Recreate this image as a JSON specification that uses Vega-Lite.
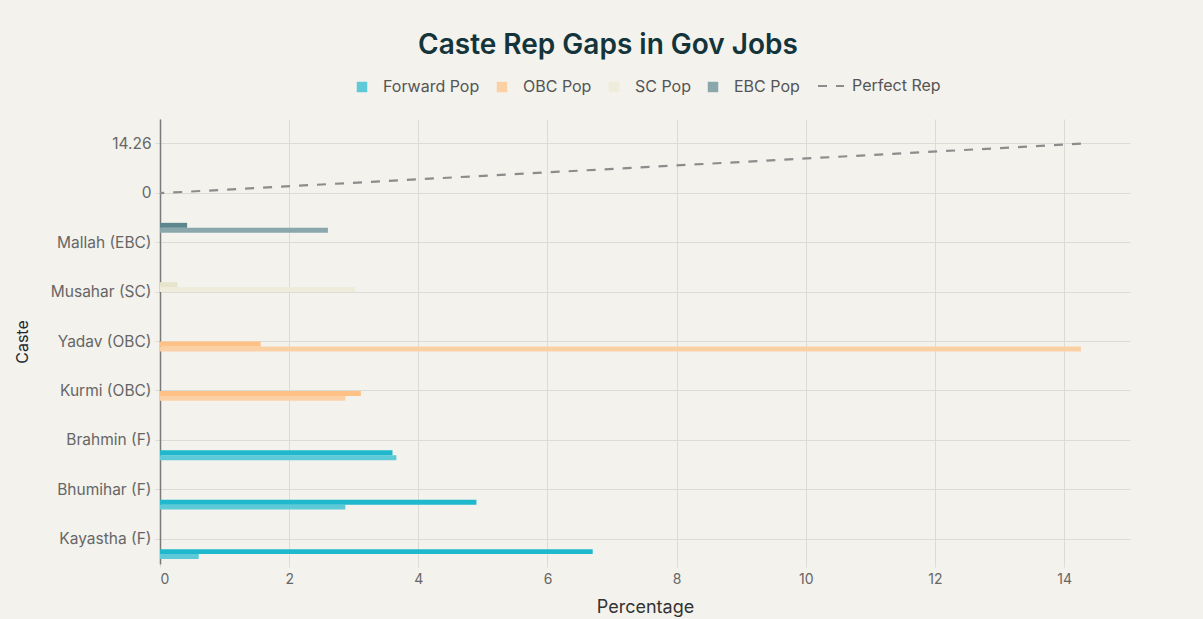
{
  "$schema": "https://vega.github.io/schema/vega-lite/v6.json",
  "width": 970,
  "height": 445,
  "autosize": {"type": "none"},
  "padding": {"left": 160, "top": 119, "right": 73, "bottom": 55},
  "background": "#F3F2ED",
  "title": {
    "text": "Caste Rep Gaps in Gov Jobs",
    "anchor": "middle",
    "font": "Inter",
    "fontSize": 28,
    "fontWeight": 600,
    "color": "#13343B",
    "offset": 12,
    "dx": -37
  },
  "config": {
    "view": {"stroke": null},
    "font": "Inter"
  },
  "layer": [
    {
      "data": {
        "values": [
          {"Caste": "Kayastha (F)", "series": "Forward Pop", "value": 0.6},
          {"Caste": "Kayastha (F)", "series": "Forward Rep", "value": 6.7},
          {"Caste": "Bhumihar (F)", "series": "Forward Pop", "value": 2.87},
          {"Caste": "Bhumihar (F)", "series": "Forward Rep", "value": 4.9},
          {"Caste": "Brahmin (F)", "series": "Forward Pop", "value": 3.66},
          {"Caste": "Brahmin (F)", "series": "Forward Rep", "value": 3.6},
          {"Caste": "Kurmi (OBC)", "series": "OBC Pop", "value": 2.87},
          {"Caste": "Kurmi (OBC)", "series": "OBC Rep", "value": 3.11},
          {"Caste": "Yadav (OBC)", "series": "OBC Pop", "value": 14.26},
          {"Caste": "Yadav (OBC)", "series": "OBC Rep", "value": 1.56},
          {"Caste": "Musahar (SC)", "series": "SC Pop", "value": 3.02},
          {"Caste": "Musahar (SC)", "series": "SC Rep", "value": 0.27},
          {"Caste": "Mallah (EBC)", "series": "EBC Pop", "value": 2.6},
          {"Caste": "Mallah (EBC)", "series": "EBC Rep", "value": 0.42}
        ]
      },
      "mark": {"type": "bar"},
      "encoding": {
        "y": {
          "field": "Caste",
          "type": "nominal",
          "title": "Caste",
          "scale": {
            "domain": ["14.26", "0", "Mallah (EBC)", "Musahar (SC)", "Yadav (OBC)", "Kurmi (OBC)", "Brahmin (F)", "Bhumihar (F)", "Kayastha (F)"],
            "paddingInner": 0.2,
            "paddingOuter": 0.1
          },
          "axis": {
            "labelFontSize": 15.5,
            "labelColor": "#666666",
            "labelPadding": 4,
            "domainColor": "#7a7a7a",
            "domainWidth": 1.5,
            "tickColor": "#dcdcd6",
            "tickSize": 5,
            "grid": true,
            "gridColor": "#dcdcd6",
            "gridWidth": 1,
            "titleFontSize": 16,
            "titleFontWeight": "normal",
            "titleColor": "#1c2b33",
            "titlePadding": 20
          }
        },
        "yOffset": {
          "field": "series",
          "type": "nominal",
          "scale": {
            "domain": ["EBC Rep", "EBC Pop", "SC Rep", "SC Pop", "OBC Rep", "OBC Pop", "Forward Rep", "Forward Pop"],
            "paddingInner": 0,
            "paddingOuter": 0
          }
        },
        "x": {
          "field": "value",
          "type": "quantitative",
          "title": "Percentage",
          "scale": {"domain": [0, 15.02], "nice": false},
          "axis": {
            "values": [0, 2, 4, 6, 8, 10, 12, 14],
            "format": "d",
            "labelFontSize": 14,
            "labelColor": "#666666",
            "labelPadding": 5,
            "domain": false,
            "tickColor": "#dcdcd6",
            "tickSize": 3,
            "grid": true,
            "gridColor": "#dcdcd6",
            "gridWidth": 1,
            "titleFontSize": 18,
            "titleFontWeight": "normal",
            "titleColor": "#333333",
            "titlePadding": 12
          }
        },
        "color": {
          "field": "series",
          "type": "nominal",
          "scale": {
            "domain": ["Forward Pop", "Forward Rep", "OBC Pop", "OBC Rep", "SC Pop", "SC Rep", "EBC Pop", "EBC Rep"],
            "range": ["#5FCAD7", "#1FB8CD", "#FBD0A5", "#FFC185", "#EEEDDB", "#E6E5CC", "#8AA7AB", "#5D878F"]
          },
          "legend": {
            "orient": "none",
            "legendX": 194,
            "legendY": -40,
            "direction": "horizontal",
            "title": null,
            "values": ["Forward Pop", "OBC Pop", "SC Pop", "EBC Pop"],
            "labelFont": "Inter",
            "labelFontSize": 16,
            "labelColor": "#555555",
            "symbolType": "square",
            "symbolSize": 110,
            "symbolStrokeWidth": 0,
            "labelOffset": 13,
            "columnPadding": 14
          }
        }
      }
    },
    {
      "data": {
        "values": [
          {"Caste": "0", "value": 0},
          {"Caste": "14.26", "value": 14.26}
        ]
      },
      "mark": {"type": "line", "color": "#8c8c8c", "strokeWidth": 2.2},
      "encoding": {
        "x": {"field": "value", "type": "quantitative"},
        "y": {"field": "Caste", "type": "nominal"},
        "strokeDash": {
          "datum": "Perfect Rep",
          "type": "nominal",
          "scale": {"domain": ["Perfect Rep"], "range": [[9, 9]]},
          "legend": {
            "orient": "none",
            "legendX": 657,
            "legendY": -47,
            "title": null,
            "labelFont": "Inter",
            "labelFontSize": 16,
            "labelColor": "#555555",
            "symbolType": "stroke",
            "symbolSize": 676,
            "symbolStrokeColor": "#8c8c8c",
            "symbolStrokeWidth": 2,
            "symbolDash": [7, 6],
            "labelOffset": 7
          }
        }
      }
    }
  ]
}
